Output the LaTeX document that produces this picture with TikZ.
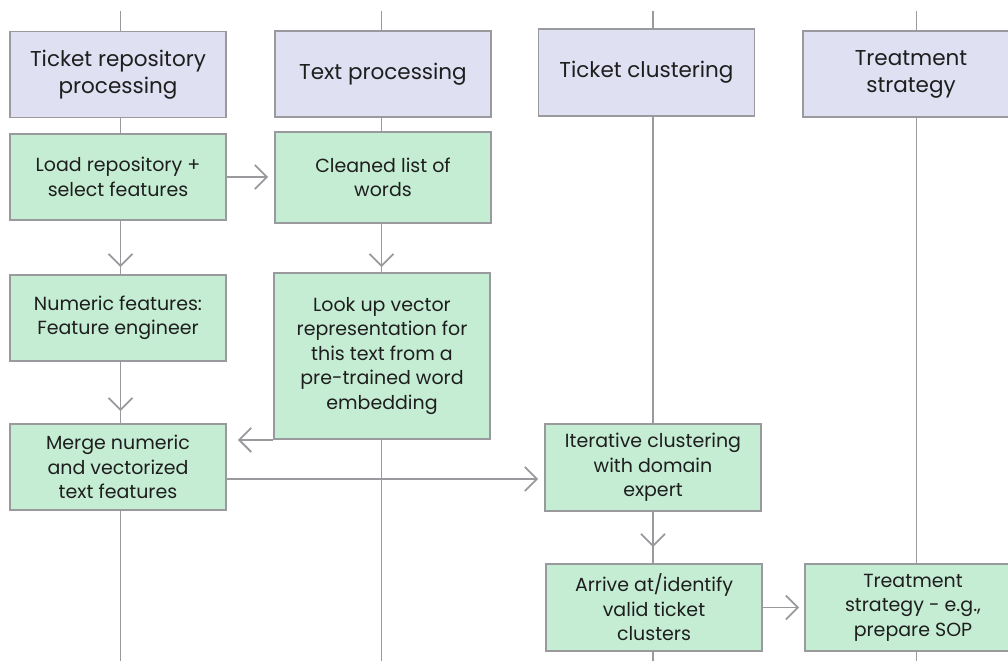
\documentclass[tikz,border=0pt]{standalone}
\usepackage{fontspec}
\setmainfont{Poppins}
\usetikzlibrary{arrows.meta}
\definecolor{hdrfill}{HTML}{DFE0F2}
\definecolor{procfill}{HTML}{C5EDD3}
\definecolor{edgegrey}{HTML}{9A9A9E}
\definecolor{inkgrey}{HTML}{1E1E1E}

\tikzset{
  lane/.style={draw=edgegrey, line width=1.8pt},
  hdrbox/.style={draw=edgegrey, line width=1.8pt, fill=hdrfill,
    minimum width=216pt, minimum height=86pt, inner sep=0pt,
    align=center, text=inkgrey, font=\fontsize{21.5}{27}\selectfont},
  procbox/.style={hdrbox, fill=procfill, font=\fontsize{19}{24.5}\selectfont},
  flow/.style={draw=edgegrey, line width=1.8pt,
    -{Straight Barb[length=12pt,width=24pt]}},
}

\begin{document}
\begin{tikzpicture}[x=1pt, y=-1pt]
        \useasboundingbox (0,0) rectangle (1008,661);
        % swim lanes
        \foreach \x [count=\i] in {120.5, 381.5, 653, 916.5} {
                \coordinate (top\i) at (\x, 11);
                \coordinate (bot\i) at (\x, 661);
                \draw[lane] (top\i) -- (bot\i);
            }
        % lane headers
        \node[hdrbox] (hrepo) at (118, 74.5) {Ticket repository\\processing};
        \node[hdrbox] (htext) at (383, 74) {Text processing};
        \node[hdrbox, minimum height=87pt] (hclust) at (646.5, 72.5) {Ticket clustering};
        \node[hdrbox] (htreat) at (911, 74) {Treatment\\strategy};
        % steps
        \node[procbox] (load) at (118, 177) {Load repository +\\select features};
        \node[procbox, minimum height=91pt] (clean) at (383, 177.5) {Cleaned list of\\words};
        \node[procbox] (numeric) at (118, 318) {Numeric features:\\Feature engineer};
        \node[procbox, minimum height=166pt] (lookup) at (382, 356) {Look up vector\\representation for\\this text from a\\pre-trained word\\embedding};
        \node[procbox] (merge) at (118, 467) {Merge numeric\\and vectorized\\text features};
        \node[procbox, minimum height=87pt] (iter) at (653, 467.5) {Iterative clustering\\with domain\\expert};
        \node[procbox, minimum height=87pt] (arrive) at (654, 607.5) {Arrive at/identify\\valid ticket\\clusters};
        \node[procbox, minimum height=87pt] (treat) at (913, 607.5) {Treatment\\strategy - e.g.,\\prepare SOP};
        % flow
        \coordinate (mergeout) at ([yshift=-12pt]merge.east);
        \draw[flow, shorten >=6pt] (load.east) -- (clean.west |- load.east);
        \draw[flow, shorten >=7pt] (top1 |- load.south) -- (top1 |- numeric.north);
        \draw[flow, shorten >=12pt] (top1 |- numeric.south) -- (top1 |- merge.north);
        \draw[flow, shorten >=5pt] (top2 |- clean.south) -- (top2 |- lookup.north);
        \draw[flow, shorten >=11pt] (lookup.south west) -- (merge.east |- lookup.south west);
        \draw[flow, shorten >=6pt] (mergeout) -- (iter.west |- mergeout);
        \draw[flow, shorten >=16pt] (top3 |- iter.south) -- (top3 |- arrive.north);
        \draw[flow, shorten >=5pt] (arrive.east) -- (treat.west);
    \end{tikzpicture}
\end{document}
